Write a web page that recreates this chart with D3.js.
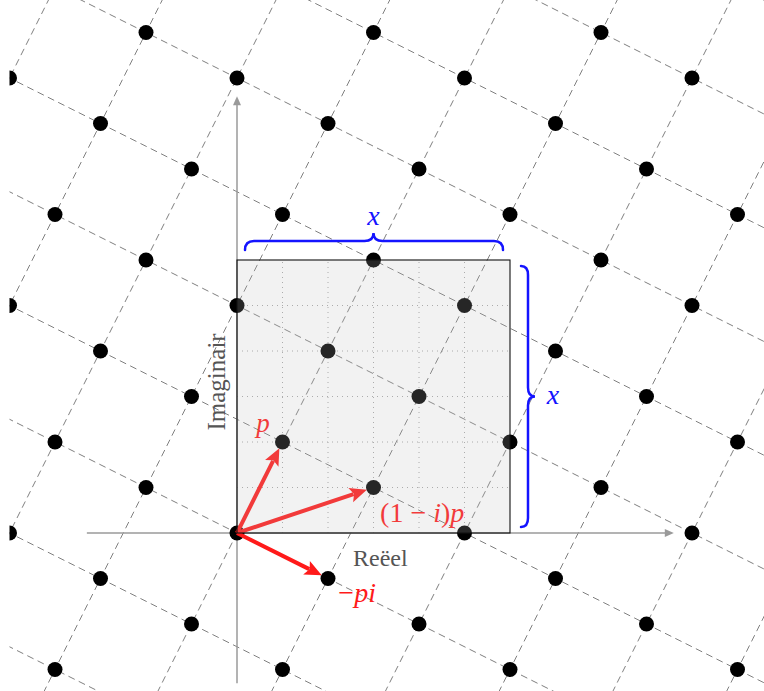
<!DOCTYPE html>
<html>
<head>
<meta charset="utf-8">
<script src="https://cdn.jsdelivr.net/npm/d3@7/dist/d3.min.js"></script>
<style>
  html, body { margin: 0; padding: 0; background: #fff; }
  svg { display: block; }
</style>
</head>
<body>
<div id="chart"></div>
<script>
// Gaussian-integer lattice generated by p = 1 + 2i (points z with Re z + 2 Im z ≡ 0 mod 5)
const latticePoints = [
  [-4,-3],[1,-3],[6,-3],[11,-3],
  [-1,-2],[4,-2],[9,-2],
  [-3,-1],[2,-1],[7,-1],
  [-5,0],[0,0],[5,0],[10,0],
  [-2,1],[3,1],[8,1],
  [-4,2],[1,2],[6,2],[11,2],
  [-1,3],[4,3],[9,3],
  [-3,4],[2,4],[7,4],
  [-5,5],[0,5],[5,5],[10,5],
  [-2,6],[3,6],[8,6],
  [-4,7],[1,7],[6,7],[11,7],
  [-1,8],[4,8],[9,8],
  [-3,9],[2,9],[7,9],
  [-5,10],[0,10],[5,10],[10,10],
  [-2,11],[3,11],[8,11]
];
// lattice lines along p: 2x − y = c
const linesAlongP = [-20,-15,-10,-5,0,5,10,15,20,25];
// lattice lines along −pi: x + 2y = c
const linesAlongPi = [-10,-5,0,5,10,15,20,25,30,35];
// highlighted vectors
const vectorNames = ["p", "(1−i)p", "−pi"];
const vectorValues = [[1,2],[3,1],[2,-1]];
// shaded square, 6 grid units per side, labelled x
const squareSide = 6;
const gridTicks = [1,2,3,4,5];
const axisRange = [-3.3, 9.6];
const axisLabels = { x: "Reëel", y: "Imaginair" };
const sideLabel = "x";

const W = 764, H = 691;
const unit = 45.5;
const x = d3.scaleLinear().domain([0, 1]).range([237, 237 + unit]);
const y = d3.scaleLinear().domain([0, 1]).range([533, 533 - unit]);

const serif = "'Liberation Serif', 'DejaVu Serif', serif";
const red = "#ff1a1a";
const blue = "#1414ff";

const svg = d3.select("#chart").append("svg")
  .attr("width", W).attr("height", H)
  .attr("viewBox", `0 0 ${W} ${H}`);

svg.append("defs").append("clipPath").attr("id", "view")
  .append("rect").attr("x", x(-5)).attr("y", 0)
  .attr("width", W - x(-5)).attr("height", H);

const root = svg.append("g").attr("clip-path", "url(#view)");

// dashed lattice lines
const lineGen = d3.line().x(d => x(d[0])).y(d => y(d[1]));
const dashed = root.append("g")
  .attr("fill", "none").attr("stroke", "#808080")
  .attr("stroke-width", 1).attr("stroke-dasharray", "7,4.5");
linesAlongP.forEach(c => {
  dashed.append("path").attr("d", lineGen([[(c - 6) / 2, -6], [(c + 14) / 2, 14]]));
});
linesAlongPi.forEach(c => {
  dashed.append("path").attr("d", lineGen([[-8, (c + 8) / 2], [16, (c - 16) / 2]]));
});

// dotted unit grid inside the square
const gridG = root.append("g")
  .attr("stroke", "#a8a8a8").attr("stroke-width", 1).attr("stroke-dasharray", "1,4");
gridTicks.forEach(t => {
  gridG.append("line")
    .attr("x1", x(t)).attr("x2", x(t))
    .attr("y1", y(0)).attr("y2", y(squareSide));
  gridG.append("line")
    .attr("x1", x(0)).attr("x2", x(squareSide))
    .attr("y1", y(t)).attr("y2", y(t));
});

// axes
const axisG = root.append("g");
const axisColor = "#9a9a9a";
axisG.append("line")
  .attr("x1", x(axisRange[0])).attr("y1", y(0))
  .attr("x2", x(axisRange[1]) - 7).attr("y2", y(0))
  .attr("stroke", axisColor).attr("stroke-width", 1.5);
axisG.append("path")
  .attr("d", `M${x(axisRange[1])},${y(0)} l-9,-4 l0,8 z`)
  .attr("fill", axisColor);
axisG.append("line")
  .attr("x1", x(0)).attr("y1", y(axisRange[0]))
  .attr("x2", x(0)).attr("y2", y(axisRange[1]) + 7)
  .attr("stroke", axisColor).attr("stroke-width", 1.5);
axisG.append("path")
  .attr("d", `M${x(0)},${y(axisRange[1])} l-4,9 l8,0 z`)
  .attr("fill", axisColor);

axisG.append("text")
  .attr("x", x(3.15)).attr("y", y(0) + 33)
  .attr("text-anchor", "middle")
  .attr("font-family", serif).attr("font-size", 24)
  .attr("fill", "#555")
  .text(axisLabels.x);
axisG.append("text")
  .attr("transform", `translate(${x(0) - 12},${y(3.32)}) rotate(-90)`)
  .attr("text-anchor", "middle")
  .attr("font-family", serif).attr("font-size", 25)
  .attr("fill", "#555")
  .text(axisLabels.y);

// lattice points
root.append("g").selectAll("circle")
  .data(latticePoints).join("circle")
  .attr("cx", d => x(d[0])).attr("cy", d => y(d[1]))
  .attr("r", 7.5).attr("fill", "#000");

// vectors from the origin
const vecG = root.append("g");
vectorValues.forEach((v, i) => {
  const x0 = x(0), y0 = y(0);
  const x1 = x(v[0]), y1 = y(v[1]);
  const len = Math.hypot(x1 - x0, y1 - y0);
  const ux = (x1 - x0) / len, uy = (y1 - y0) / len;
  const tip = len - 7, head = 17, hw = 7.5;
  const tx = x0 + ux * tip, ty = y0 + uy * tip;
  const bx = tx - ux * head, by = ty - uy * head;
  vecG.append("line")
    .attr("x1", x0).attr("y1", y0)
    .attr("x2", bx + ux * 3).attr("y2", by + uy * 3)
    .attr("stroke", red).attr("stroke-width", 4);
  vecG.append("path")
    .attr("d", `M${tx},${ty} L${bx - uy * hw},${by + ux * hw} L${bx + ux * 3.5},${by + uy * 3.5} L${bx + uy * hw},${by - ux * hw} Z`)
    .attr("fill", red);
});

function mathLabel(g, px, py, parts, color, size) {
  const t = g.append("text")
    .attr("x", px).attr("y", py)
    .attr("text-anchor", "middle")
    .attr("font-family", serif).attr("font-size", size || 27)
    .attr("fill", color);
  parts.forEach(([s, it]) => {
    t.append("tspan").attr("font-style", it ? "italic" : "normal").text(s);
  });
  return t;
}

mathLabel(vecG, x(0.57), y(0) - 101, [["p", true]], red);
mathLabel(vecG, x(4.07), y(0) - 11, [["(1 − ", false], ["i", true], [")", false], ["p", true]], red, 28);
mathLabel(vecG, x(2.64), y(0) + 69, [["−", false], ["pi", true]], red, 28);

// shaded square and its outline
const sq = root.append("g");
sq.append("rect")
  .attr("x", x(0)).attr("y", y(squareSide))
  .attr("width", x(squareSide) - x(0)).attr("height", y(0) - y(squareSide))
  .attr("fill", "rgb(190,190,190)").attr("fill-opacity", 0.2);
sq.append("rect")
  .attr("x", x(0)).attr("y", y(squareSide))
  .attr("width", x(squareSide) - x(0)).attr("height", y(0) - y(squareSide))
  .attr("fill", "none").attr("stroke", "#111").attr("stroke-width", 1.1);

// braces marking the side length
const q = 9;
const braceG = root.append("g")
  .attr("fill", "none").attr("stroke", blue)
  .attr("stroke-width", 2.5).attr("stroke-linecap", "round");
{
  const x0 = x(0) + 8, x1 = x(squareSide) - 7, xm = x(squareSide / 2), yb = y(squareSide) - 10;
  const p = d3.path();
  p.moveTo(x0, yb);
  p.quadraticCurveTo(x0, yb - q, x0 + q, yb - q);
  p.lineTo(xm - q, yb - q);
  p.quadraticCurveTo(xm, yb - q, xm, yb - 2 * q + 1);
  p.quadraticCurveTo(xm, yb - q, xm + q, yb - q);
  p.lineTo(x1 - q, yb - q);
  p.quadraticCurveTo(x1, yb - q, x1, yb);
  braceG.append("path").attr("d", p.toString());
  mathLabel(root, xm, yb - 25, [[sideLabel, true]], blue, 28);
}
{
  const y0 = y(squareSide) + 6, y1 = y(0) - 6, ym = y(squareSide / 2), xb = x(squareSide) + 11;
  const p = d3.path();
  p.moveTo(xb, y0);
  p.quadraticCurveTo(xb + q - 2, y0, xb + q - 2, y0 + q);
  p.lineTo(xb + q - 2, ym - q);
  p.quadraticCurveTo(xb + q - 2, ym, xb + 2 * q - 4, ym);
  p.quadraticCurveTo(xb + q - 2, ym, xb + q - 2, ym + q);
  p.lineTo(xb + q - 2, y1 - q);
  p.quadraticCurveTo(xb + q - 2, y1, xb, y1);
  braceG.append("path").attr("d", p.toString());
  mathLabel(root, xb + 32, ym + 7, [[sideLabel, true]], blue, 28);
}
</script>
</body>
</html>
